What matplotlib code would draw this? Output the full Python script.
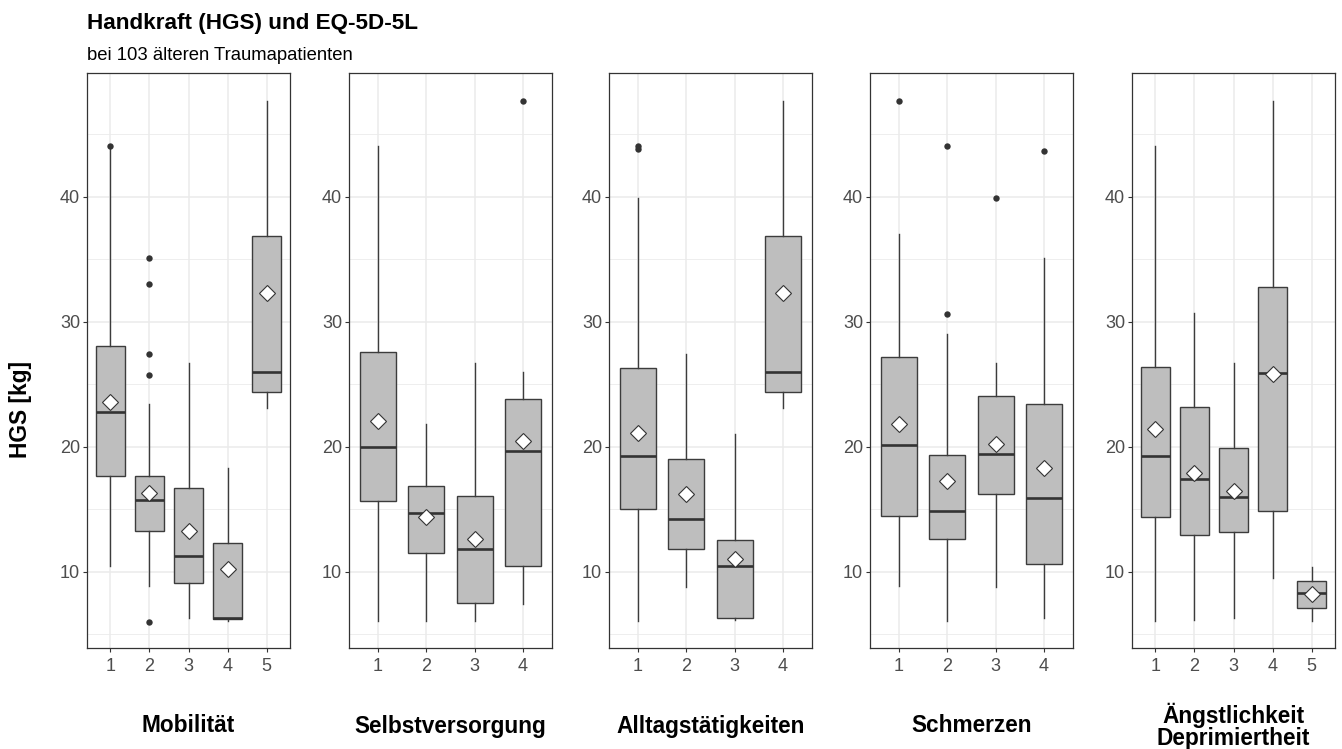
import matplotlib
matplotlib.use("Agg")
import matplotlib.pyplot as plt

plt.rcParams['font.family'] = ['Liberation Sans', 'DejaVu Sans']

# EQ-5D-5L dimensions and the answer levels present in each
DIMENSIONS = ["Mobilität", "Selbstversorgung", "Alltagstätigkeiten",
              "Schmerzen", "Ängstlichkeit\nDeprimiertheit"]
LEVELS = [[1, 2, 3, 4, 5], [1, 2, 3, 4], [1, 2, 3, 4], [1, 2, 3, 4], [1, 2, 3, 4, 5]]

# box statistics of hand grip strength (kg) per dimension and level
WHISKER_LOW = [[10.5, 8.85, 6.3, 6.1, 23.1],
               [6.1, 6.1, 6.1, 7.4],
               [6.1, 8.8, 6.15, 23.1],
               [8.9, 6.1, 8.8, 6.3],
               [6.1, 6.15, 6.3, 9.5, 6.1]]
Q1 = [[17.7, 13.3, 9.1, 6.2, 24.4],
      [15.7, 11.5, 7.5, 10.5],
      [15.0, 11.8, 6.3, 24.4],
      [14.45, 12.65, 16.2, 10.6],
      [14.35, 12.95, 13.15, 14.85, 7.1]]
MEDIAN = [[22.8, 15.75, 11.3, 6.3, 26.0],
          [20.0, 14.7, 11.8, 19.7],
          [19.3, 14.2, 10.5, 26.0],
          [20.15, 14.9, 19.4, 15.9],
          [19.3, 17.4, 16.0, 25.9, 8.3]]
Q3 = [[28.1, 17.7, 16.7, 12.3, 36.85],
      [27.55, 16.9, 16.05, 23.8],
      [26.3, 19.05, 12.55, 36.85],
      [27.15, 19.35, 24.05, 23.4],
      [26.4, 23.2, 19.9, 32.8, 9.25]]
WHISKER_HIGH = [[43.8, 23.4, 26.7, 18.3, 47.7],
                [44.1, 21.8, 26.7, 26.0],
                [39.9, 27.45, 21.0, 47.7],
                [37.0, 29.0, 26.7, 35.1],
                [44.1, 30.7, 26.7, 47.7, 10.4]]
MEAN = [[23.6, 16.3, 13.3, 10.2, 32.3],
        [22.1, 14.4, 12.65, 20.5],
        [21.1, 16.2, 11.0, 32.3],
        [21.8, 17.3, 20.2, 18.3],
        [21.45, 17.9, 16.45, 25.85, 8.25]]
OUTLIERS = [[[44.1], [35.1, 33.0, 27.4, 25.75, 6.0], [], [], []],
            [[], [], [], [47.7]],
            [[44.1, 43.8], [], [], []],
            [[47.7], [44.1, 30.65], [39.9], [43.7]],
            [[], [], [], [], []]]

Y_TICKS = [10, 20, 30, 40]
Y_MINOR = [5, 15, 25, 35, 45]

DARK = '#333333'
GRID = '#EBEBEB'
W, H = 1342, 749

fig = plt.figure(figsize=(W / 100, H / 100), dpi=100)

panel_left = [87, 349, 609, 870, 1132]
panel_w, panel_top, panel_bot = 203, 73, 648

for k, name in enumerate(DIMENSIONS):
    ax = fig.add_axes([panel_left[k] / W, 1 - panel_bot / H,
                       panel_w / W, (panel_bot - panel_top) / H])
    levels = LEVELS[k]
    stats = []
    for i in range(len(levels)):
        stats.append(dict(whislo=WHISKER_LOW[k][i], q1=Q1[k][i], med=MEDIAN[k][i],
                          q3=Q3[k][i], whishi=WHISKER_HIGH[k][i],
                          fliers=OUTLIERS[k][i]))
    ax.bxp(stats, positions=levels, widths=0.75, patch_artist=True,
           showcaps=False, showfliers=True,
           boxprops=dict(facecolor='#BEBEBE', edgecolor='#3C3C3C', linewidth=1.0),
           whiskerprops=dict(color='#3C3C3C', linewidth=1.0),
           medianprops=dict(color=DARK, linewidth=1.9, solid_capstyle='butt'),
           flierprops=dict(marker='o', markersize=4.6, markerfacecolor=DARK,
                           markeredgecolor=DARK, markeredgewidth=0),
           zorder=3)
    ax.plot(levels, MEAN[k], linestyle='none', marker='D', markersize=7.8,
            markerfacecolor='white', markeredgecolor=DARK, markeredgewidth=0.8,
            zorder=5)

    ax.set_xlim(0.4, len(levels) + 0.6)
    ax.set_ylim(3.9, 49.9)
    ax.set_yticks(Y_TICKS)
    ax.set_yticks(Y_MINOR, minor=True)
    ax.set_xticks(levels)
    ax.set_xticklabels([str(v) for v in levels])

    for y in Y_TICKS:
        ax.axhline(y, color=GRID, linewidth=1.1, zorder=0)
    for y in Y_MINOR:
        ax.axhline(y, color=GRID, linewidth=0.6, zorder=0)
    for x in levels:
        ax.axvline(x, color=GRID, linewidth=1.1, zorder=0)

    ax.tick_params(axis='both', which='major', length=3, width=0.8, color=DARK,
                   labelsize=13, labelcolor='#4D4D4D', pad=2)
    ax.tick_params(axis='x', pad=4)
    ax.tick_params(axis='y', which='minor', length=0)
    for sp in ax.spines.values():
        sp.set_color(DARK)
        sp.set_linewidth(0.9)

    cx = (panel_left[k] + panel_w / 2) / W
    fig.text(cx, 1 - 726 / H, name, ha='center', va='center', fontsize=16.3,
             fontweight='bold', linespacing=0.95)

fig.text(87 / W, 1 - 29 / H, "Handkraft (HGS) und EQ-5D-5L", ha='left',
         va='baseline', fontsize=16.2, fontweight='bold')
fig.text(87 / W, 1 - 60 / H, "bei 103 älteren Traumapatienten", ha='left',
         va='baseline', fontsize=13.3)
fig.text(21 / W, 1 - 410 / H, "HGS [kg]", rotation=90, ha='center', va='center',
         fontsize=16.4, fontweight='bold')

fig.savefig('out.png', dpi=100)
